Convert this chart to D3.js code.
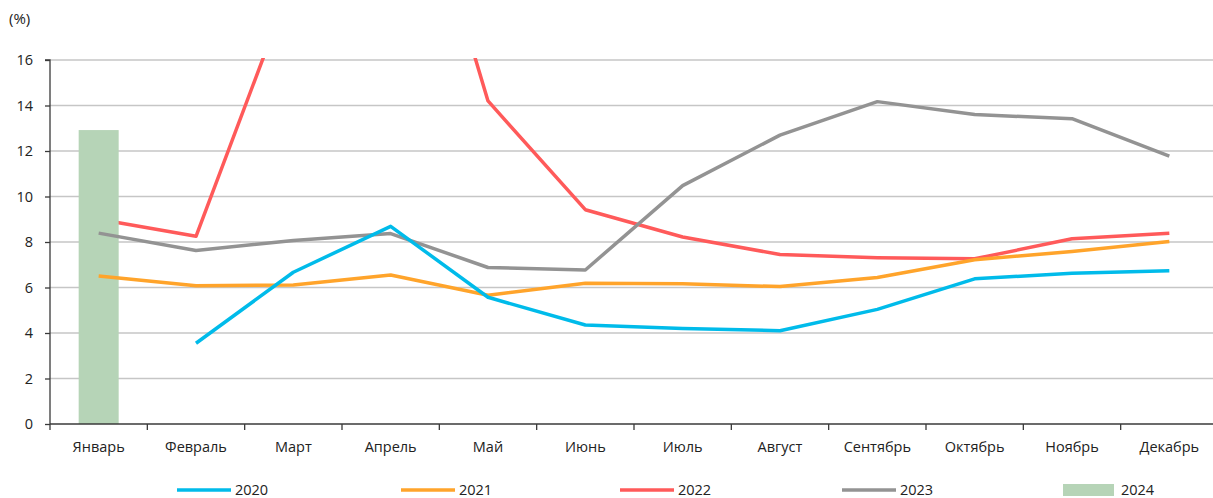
<!DOCTYPE html>
<html>
<head>
<meta charset="utf-8">
<script src="https://cdn.jsdelivr.net/npm/d3@7"></script>
<style>
  html, body { margin: 0; padding: 0; background: #fff; }
  svg { display: block; font-family: "Open Sans", "Noto Sans", sans-serif; }
</style>
</head>
<body>
<svg id="chart" width="1213" height="498"></svg>
<script>
const months = ["Январь","Февраль","Март","Апрель","Май","Июнь","Июль","Август","Сентябрь","Октябрь","Ноябрь","Декабрь"];
const yTicks = [0, 2, 4, 6, 8, 10, 12, 14, 16];
const s2020 = [null, 3.55, 6.67, 8.69, 5.57, 4.35, 4.2, 4.1, 5.04, 6.38, 6.63, 6.74];
const s2021 = [6.51, 6.08, 6.11, 6.55, 5.66, 6.19, 6.16, 6.04, 6.44, 7.22, 7.58, 8.02];
const s2022 = [9.0, 8.25, 19.6, 28.5, 14.2, 9.42, 8.22, 7.45, 7.31, 7.26, 8.14, 8.39];
const s2023 = [8.39, 7.63, 8.07, 8.37, 6.88, 6.77, 10.48, 12.7, 14.17, 13.6, 13.42, 11.77];
const s2024 = [12.92];
const seriesNames = ["2020", "2021", "2022", "2023", "2024"];
const colors = { "2020": "#00BBEA", "2021": "#FFA42B", "2022": "#FF5A5A", "2023": "#939393", "2024": "#B6D4B7" };

const svg = d3.select("#chart");
const mLeft = 50, mRight = 1218, mTop = 60, mBottom = 424;

const x = d3.scaleBand().domain(months).range([mLeft, mRight]).paddingInner(0).paddingOuter(0);
const y = d3.scaleLinear().domain([0, 16]).range([mBottom, mTop]);

svg.append("defs").append("clipPath").attr("id", "plotclip")
  .append("rect").attr("x", mLeft).attr("y", mTop - 2).attr("width", mRight - mLeft).attr("height", mBottom - mTop + 2);

// gridlines
svg.append("g").selectAll("line").data(yTicks.filter(d => d > 0)).join("line")
  .attr("x1", mLeft).attr("x2", 1213)
  .attr("y1", d => y(d)).attr("y2", d => y(d))
  .attr("stroke", "#c6c6c6").attr("stroke-width", 1.5);

const line = d3.line()
  .defined(d => d != null)
  .x((d, i) => x(months[i]) + x.bandwidth() / 2)
  .y(d => y(d));

const plot = svg.append("g").attr("clip-path", "url(#plotclip)");

function drawLine(data, name) {
  plot.append("path").datum(data)
    .attr("fill", "none")
    .attr("stroke", colors[name])
    .attr("stroke-width", 3.5)
    .attr("stroke-linejoin", "round")
    .attr("d", line);
}

drawLine(s2022, "2022");

// 2024 bar
const barW = 40;
plot.selectAll("rect.bar").data(s2024).join("rect")
  .attr("class", "bar")
  .attr("x", (d, i) => x(months[i]) + x.bandwidth() / 2 - barW / 2)
  .attr("width", barW)
  .attr("y", d => y(d))
  .attr("height", d => y(0) - y(d))
  .attr("fill", colors["2024"]);

drawLine(s2023, "2023");
drawLine(s2021, "2021");
drawLine(s2020, "2020");

// y axis
const yAxis = d3.axisLeft(y).tickValues(yTicks).tickSize(5).tickPadding(12);
const gy = svg.append("g").attr("transform", `translate(${mLeft},0)`).call(yAxis);
gy.select(".domain").attr("stroke", "#3a3a3a").attr("stroke-width", 1.3).attr("d", `M-5,${mTop}H0V${mBottom}`);
gy.selectAll(".tick line").attr("stroke", "#3a3a3a").attr("stroke-width", 1.3);
gy.selectAll(".tick text").attr("font-size", 14.5).attr("fill", "#222").attr("font-family", "'Open Sans', sans-serif");

// x axis
const gx = svg.append("g").attr("transform", `translate(0,${mBottom})`);
gx.append("line").attr("x1", mLeft).attr("x2", 1213).attr("y1", 0).attr("y2", 0)
  .attr("stroke", "#3a3a3a").attr("stroke-width", 1.5);
gx.selectAll("line.tk").data(months).join("line").attr("class", "tk")
  .attr("x1", d => x(d)).attr("x2", d => x(d)).attr("y1", 0).attr("y2", 6)
  .attr("stroke", "#3a3a3a").attr("stroke-width", 1.3);
gx.selectAll("text").data(months).join("text")
  .attr("x", d => x(d) + x.bandwidth() / 2)
  .attr("y", 28)
  .attr("text-anchor", "middle")
  .attr("font-size", 14.5).attr("fill", "#222")
  .text(d => d);

// unit label
svg.append("text").attr("x", 9).attr("y", 24).attr("font-size", 15).attr("fill", "#222").text("(%)");

// legend
const legendX = [177, 401, 620, 842, 1063];
const lg = svg.append("g");
seriesNames.forEach((name, i) => {
  const g = lg.append("g").attr("transform", `translate(${legendX[i]},490)`);
  if (name === "2024") {
    g.append("rect").attr("x", 0).attr("y", -6).attr("width", 51).attr("height", 12).attr("fill", colors[name]);
  } else {
    g.append("line").attr("x1", 0).attr("x2", 54).attr("y1", 0).attr("y2", 0)
      .attr("stroke", colors[name]).attr("stroke-width", 3.5);
  }
  g.append("text").attr("x", 58).attr("y", 5).attr("font-size", 14.5).attr("fill", "#222").text(name);
});
</script>
</body>
</html>
